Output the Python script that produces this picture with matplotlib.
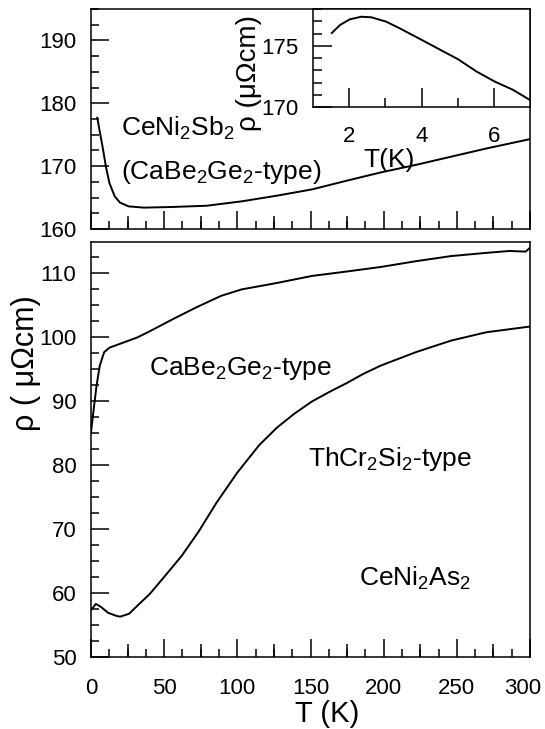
import matplotlib
matplotlib.use("Agg")
import matplotlib.pyplot as plt
import matplotlib.transforms as mtransforms
import numpy as np

plt.rcParams['font.family'] = ['Liberation Sans', 'DejaVu Sans']
plt.rcParams['mathtext.default'] = 'regular'

W, H = 545, 729

# ---- data ----
# top panel: CeNi2Sb2 (CaBe2Ge2-type)
T_sb = [4.3, 5.5, 7.9, 10.2, 12.6, 16.2, 19.8, 25.7, 36, 55, 79, 103, 127, 151, 175, 198, 222, 246, 270, 300]
R_sb = [177.7, 176.1, 173.1, 169.9, 167.3, 165.2, 164.2, 163.6, 163.4, 163.5, 163.7, 164.4, 165.3, 166.3, 167.7, 169.0, 170.2, 171.5, 172.8, 174.3]

# inset: low-T CeNi2Sb2
T_in = [1.52, 1.75, 2.02, 2.34, 2.62, 3.02, 3.4, 4.01, 4.5, 5.01, 5.52, 6.03, 6.53, 7.0]
R_in = [176.04, 176.7, 177.16, 177.37, 177.32, 176.97, 176.42, 175.47, 174.7, 173.9, 172.9, 172.07, 171.4, 170.57]

# bottom panel: CeNi2As2, CaBe2Ge2-type
T_ca = [0, 1.9, 3.8, 6, 9, 12.6, 19.8, 31.7, 38.8, 55.5, 72, 89, 103, 127, 151, 175, 198, 222, 246, 270, 286, 297, 300]
R_ca = [85.1, 88.8, 92.4, 95.5, 97.6, 98.3, 98.9, 99.9, 100.7, 102.7, 104.6, 106.4, 107.4, 108.4, 109.5, 110.2, 110.9, 111.8, 112.6, 113.1, 113.4, 113.3, 113.9]

# bottom panel: CeNi2As2, ThCr2Si2-type
T_th = [0, 3.3, 6.9, 11.7, 17.6, 20, 26, 33, 40, 50, 62, 73.6, 85.5, 100, 115, 127, 139, 151, 163, 175, 186, 198, 222, 246, 270, 300]
R_th = [57.3, 58.3, 57.8, 56.9, 56.4, 56.3, 56.75, 58.3, 59.8, 62.5, 65.8, 69.6, 74.0, 78.8, 83.1, 85.8, 88.0, 89.9, 91.4, 92.8, 94.2, 95.5, 97.6, 99.4, 100.7, 101.6]

main_xticks = [0, 50, 100, 150, 200, 250, 300]
top_yticks = [160, 170, 180, 190]
bot_yticks = [50, 60, 70, 80, 90, 100, 110]
in_xticks = [2, 4, 6]
in_yticks = [170, 175]

LW = 1.4
TICKFS = 16

def fa(l, t, r, b):
    return [l / W, 1 - b / H, (r - l) / W, (b - t) / H]

fig = plt.figure(figsize=(W / 100, H / 100), dpi=100)

def style_main(ax, xlabels=True):
    for s in ax.spines.values():
        s.set_linewidth(1.1)
    ax.set_xlim(0, 300)
    ax.set_xticks(main_xticks)
    ax.set_xticks(np.arange(0, 301, 12.5), minor=True)
    ax.tick_params(axis='both', which='major', direction='in', length=13, width=1.1,
                   labelsize=TICKFS, top=False, right=False)
    ax.tick_params(axis='x', which='major', pad=15)
    ax.tick_params(axis='y', which='major', pad=10.5)
    ax.tick_params(axis='both', which='minor', direction='in', length=5.8, width=1.1,
                   top=False, right=False)
    sec = ax.secondary_xaxis('bottom')
    sec.set_xticks(np.arange(25, 300, 50))
    sec.tick_params(direction='in', length=9.5, width=1.1, labelbottom=False)
    sec.spines['bottom'].set_visible(False)
    if not xlabels:
        ax.tick_params(axis='x', labelbottom=False)

# top panel
ax1 = fig.add_axes(fa(91, 9, 530, 229))
ax1.plot(T_sb, R_sb, color='black', lw=LW)
ax1.set_ylim(160, 195)
ax1.set_yticks(top_yticks)
ax1.set_yticks(np.arange(160, 195.1, 2.5), minor=True)
style_main(ax1, xlabels=False)
ax1.text(20.5, 174.8, r'CeNi$_2$Sb$_2$', fontsize=19, va='baseline', ha='left')
ax1.text(20.5, 168.0, r'(CaBe$_2$Ge$_2$-type)', fontsize=19, va='baseline', ha='left')

# bottom panel
ax2 = fig.add_axes(fa(91, 242, 530, 657))
ax2.plot(T_ca, R_ca, color='black', lw=LW)
ax2.plot(T_th, R_th, color='black', lw=LW)
ax2.set_ylim(50, 114.8)
ax2.set_yticks(bot_yticks)
ax2.set_yticks(np.arange(50, 114.8, 2.5), minor=True)
style_main(ax2, xlabels=True)
# nudge the last tick label ("300") left so it stays inside the figure
fig.canvas.draw()
lbl = ax2.get_xticklabels()[-1]
lbl.set_transform(lbl.get_transform() + mtransforms.ScaledTranslation(-5 / 72, 0, fig.dpi_scale_trans))
ax2.text(39.7, 94.1, r'CaBe$_2$Ge$_2$-type', fontsize=19, va='baseline', ha='left')
ax2.text(148, 79.8, r'ThCr$_2$Si$_2$-type', fontsize=19, va='baseline', ha='left')
ax2.text(183, 61.1, r'CeNi$_2$As$_2$', fontsize=19, va='baseline', ha='left')

fig.text(327 / W, 1 - 722 / H, 'T (K)', fontsize=21, ha='center', va='baseline')
fig.text(26 / W, 1 - 363 / H, 'ρ ( μΩcm)', fontsize=22, ha='center', va='center', rotation=90)

# inset
ax3 = fig.add_axes(fa(313, 9, 530, 107))
ax3.plot(T_in, R_in, color='black', lw=LW)
ax3.set_xlim(1, 7)
ax3.set_ylim(170, 178)
ax3.set_xticks(in_xticks)
ax3.set_xticks([3, 5], minor=True)
ax3.set_yticks(in_yticks)
ax3.set_yticks(np.arange(170, 178.1, 1), minor=True)
for s in ax3.spines.values():
    s.set_linewidth(1.1)
ax3.tick_params(axis='both', which='major', direction='in', length=13.5, width=1.1,
                labelsize=TICKFS, top=False, right=False)
ax3.tick_params(axis='x', which='major', pad=14)
ax3.tick_params(axis='y', which='major', pad=10.5)
ax3.tick_params(axis='both', which='minor', direction='in', length=6.5, width=1.1,
                top=False, right=False)
fig.text(389 / W, 1 - 167 / H, 'T(K)', fontsize=19, ha='center', va='baseline')
fig.text(249 / W, 1 - 73 / H, 'ρ (μΩcm)', fontsize=20, ha='center', va='center', rotation=90)

fig.savefig('out.png', dpi=100)
